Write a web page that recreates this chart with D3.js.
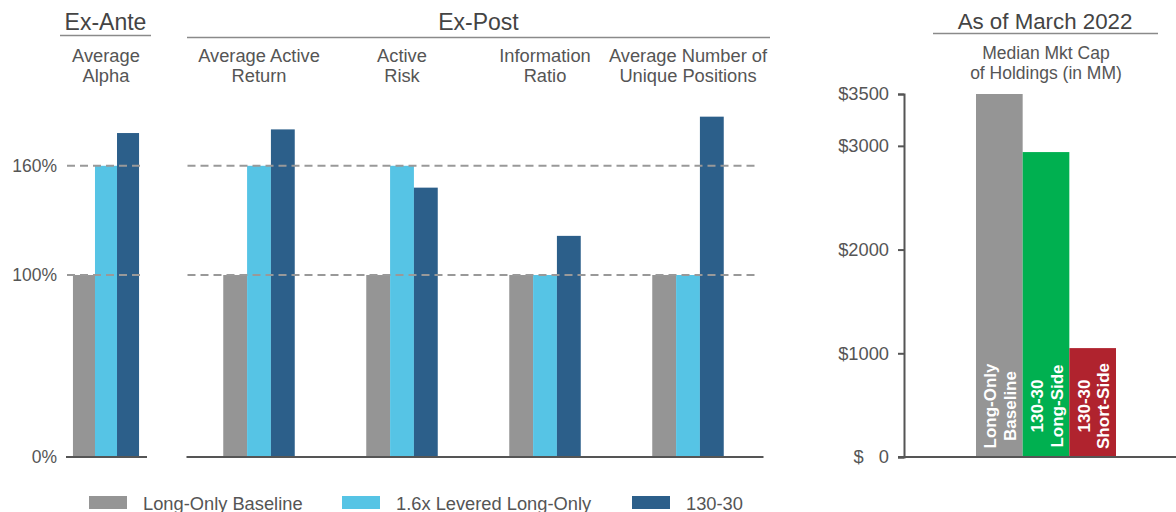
<!DOCTYPE html>
<html>
<head>
<meta charset="utf-8">
<script src="https://cdn.jsdelivr.net/npm/d3@7/dist/d3.min.js"></script>
<style>
  html, body { margin: 0; padding: 0; background: #fff; }
  svg { display: block; font-family: "Liberation Sans", Arial, sans-serif; }
</style>
</head>
<body>
<svg id="chart" width="1176" height="512"></svg>
<script>
// ---- data ----
const exAnteCategories = ["Average Alpha"];
const exPostCategories = ["Average Active Return", "Active Risk", "Information Ratio", "Average Number of Unique Positions"];
const metricLabelLines = [
  ["Average", "Alpha"],
  ["Average Active", "Return"],
  ["Active", "Risk"],
  ["Information", "Ratio"],
  ["Average Number of", "Unique Positions"]
];
const seriesNames = ["Long-Only Baseline", "1.6x Levered Long-Only", "130-30"];
const baselineValues = [100, 100, 100, 100, 100];
const leveredValues  = [160, 160, 160, 100, 100];
const strategyValues = [178, 180, 148, 121.5, 187];
const pctTicks = [0, 100, 160];
const refLines = [100, 160];

const capCategories = ["Long-Only Baseline", "130-30 Long-Side", "130-30 Short-Side"];
const capLabelLines = [["Long-Only", "Baseline"], ["130-30", "Long-Side"], ["130-30", "Short-Side"]];
const capValues = [3500, 2940, 1050];
const capTicks = [0, 1000, 2000, 3000, 3500];

// ---- styles ----
const seriesColors = ["#959595", "#56c4e5", "#2c5f8a"];
const capColors = ["#959595", "#00b050", "#b0232e"];
const textColor = "#555";
const axisColor = "#555";

const svg = d3.select("#chart");

// ---- left panels: relative metrics ----
const yPct = d3.scaleLinear().domain([0, 200]).range([457, 93]);

const allCategories = exAnteCategories.concat(exPostCategories);
const rows = allCategories.map((c, i) => ({
  category: c,
  lines: metricLabelLines[i],
  values: [baselineValues[i], leveredValues[i], strategyValues[i]]
}));

const panels = [
  { title: "Ex-Ante", cats: exAnteCategories, range: [67, 145], padOuter: 0.09, padInner: 0, rule: [60, 151], ruleY: 35.5 },
  { title: "Ex-Post", cats: exPostCategories, range: [187.5, 759.5], padOuter: 0.25, padInner: 0.5, rule: [187, 770], ruleY: 37.5 }
];

const seriesScale = d3.scaleBand().domain(seriesNames).paddingInner(0);

panels.forEach(p => {
  const x = d3.scaleBand().domain(p.cats).range(p.range)
    .paddingInner(p.padInner).paddingOuter(p.padOuter);
  const sub = seriesScale.copy().range([0, x.bandwidth()]);
  const panelRows = rows.filter(r => p.cats.includes(r.category));

  // header and rule
  svg.append("text")
    .attr("x", (p.rule[0] + p.rule[1]) / 2).attr("y", 30)
    .attr("text-anchor", "middle").attr("font-size", 23)
    .attr("fill", "#444").text(p.title);
  svg.append("line")
    .attr("x1", p.rule[0]).attr("x2", p.rule[1])
    .attr("y1", p.ruleY).attr("y2", p.ruleY)
    .attr("stroke", "#8a8a8a").attr("stroke-width", 1.5);

  // metric labels
  panelRows.forEach(r => {
    const t = svg.append("text")
      .attr("text-anchor", "middle").attr("font-size", 18.3).attr("fill", textColor);
    r.lines.forEach((ln, k) => {
      t.append("tspan").attr("x", x(r.category) + x.bandwidth() / 2)
        .attr("y", 62 + k * 19.5).text(ln);
    });
  });

  // bars
  const g = svg.append("g");
  panelRows.forEach(r => {
    g.selectAll(null)
      .data(r.values.map((v, k) => ({ v, s: seriesNames[k], k })))
      .join("rect")
      .attr("x", d => x(r.category) + sub(d.s))
      .attr("width", sub.bandwidth())
      .attr("y", d => yPct(d.v))
      .attr("height", d => yPct(0) - yPct(d.v))
      .attr("fill", d => seriesColors[d.k]);
  });

  // dashed reference lines
  refLines.forEach(v => {
    svg.append("line")
      .attr("x1", p.range[0]).attr("x2", p.range[1])
      .attr("y1", yPct(v)).attr("y2", yPct(v))
      .attr("stroke", "#999").attr("stroke-width", 2)
      .attr("stroke-dasharray", "8,5");
  });

  // zero baseline
  svg.append("line")
    .attr("x1", p.range[0] - 1).attr("x2", p.range[1] + (p.title === "Ex-Post" ? 4 : 2))
    .attr("y1", yPct(0)).attr("y2", yPct(0))
    .attr("stroke", axisColor).attr("stroke-width", 2);
});

// percent axis labels
const pctAxis = svg.append("g").attr("transform", "translate(57,0)")
  .call(d3.axisLeft(yPct).tickValues(pctTicks).tickFormat(d => d + "%").tickSize(0).tickPadding(0));
pctAxis.select(".domain").remove();
pctAxis.selectAll("text").attr("font-size", 17.5).attr("fill", textColor)
  .attr("font-family", "Liberation Sans, Arial, sans-serif");

// ---- right panel: median market cap ----
const yCap = d3.scaleLinear().domain([0, 3500]).range([457, 94]);
const xCap = d3.scaleBand().domain(capCategories).range([976, 1116]).padding(0);

svg.append("text")
  .attr("x", 1045).attr("y", 29).attr("text-anchor", "middle")
  .attr("font-size", 22.3).attr("fill", "#444").text("As of March 2022");
svg.append("line")
  .attr("x1", 933).attr("x2", 1158).attr("y1", 33.5).attr("y2", 33.5)
  .attr("stroke", "#8a8a8a").attr("stroke-width", 1.5);

const capTitle = svg.append("text").attr("text-anchor", "middle")
  .attr("font-size", 17.5).attr("fill", textColor);
["Median Mkt Cap", "of Holdings (in MM)"].forEach((ln, k) => {
  capTitle.append("tspan").attr("x", 1046).attr("y", 59 + k * 20).text(ln);
});

svg.append("g").selectAll("rect")
  .data(capValues.map((v, i) => ({ v, c: capCategories[i], i })))
  .join("rect")
  .attr("x", d => xCap(d.c))
  .attr("width", xCap.bandwidth())
  .attr("y", d => yCap(d.v))
  .attr("height", d => yCap(0) - yCap(d.v))
  .attr("fill", d => capColors[d.i]);

// rotated labels inside bars
capCategories.forEach((c, i) => {
  const cx = xCap(c) + xCap.bandwidth() / 2;
  const t = svg.append("text")
    .attr("transform", `translate(${cx},406) rotate(-90)`)
    .attr("text-anchor", "middle").attr("font-size", 17).attr("font-weight", "bold")
    .attr("fill", "#fff");
  capLabelLines[i].forEach((ln, k) => {
    t.append("tspan").attr("x", 0).attr("y", -3 + k * 19.5).text(ln);
  });
});

const capAxis = svg.append("g").attr("transform", "translate(904,0)")
  .call(d3.axisLeft(yCap).tickValues(capTicks)
    .tickFormat(d => d === 0 ? "$\u00a0\u00a0\u00a00" : "$" + d)
    .tickSize(6).tickSizeOuter(6).tickPadding(9));
capAxis.selectAll("path, line").attr("stroke", axisColor).attr("stroke-width", 2);
capAxis.selectAll("text").attr("font-size", 18.3).attr("fill", textColor)
  .attr("font-family", "Liberation Sans, Arial, sans-serif");

svg.append("line")
  .attr("x1", 898).attr("x2", 1176).attr("y1", yCap(0)).attr("y2", yCap(0))
  .attr("stroke", axisColor).attr("stroke-width", 2);

// ---- legend ----
const legendX = [89, 342, 632];
const legend = svg.append("g");
seriesNames.forEach((name, i) => {
  legend.append("rect").attr("x", legendX[i]).attr("y", 496)
    .attr("width", 38).attr("height", 13).attr("fill", seriesColors[i]);
  legend.append("text").attr("x", legendX[i] + 54).attr("y", 509.5)
    .attr("font-size", 18.3).attr("fill", textColor).text(name);
});
</script>
</body>
</html>
